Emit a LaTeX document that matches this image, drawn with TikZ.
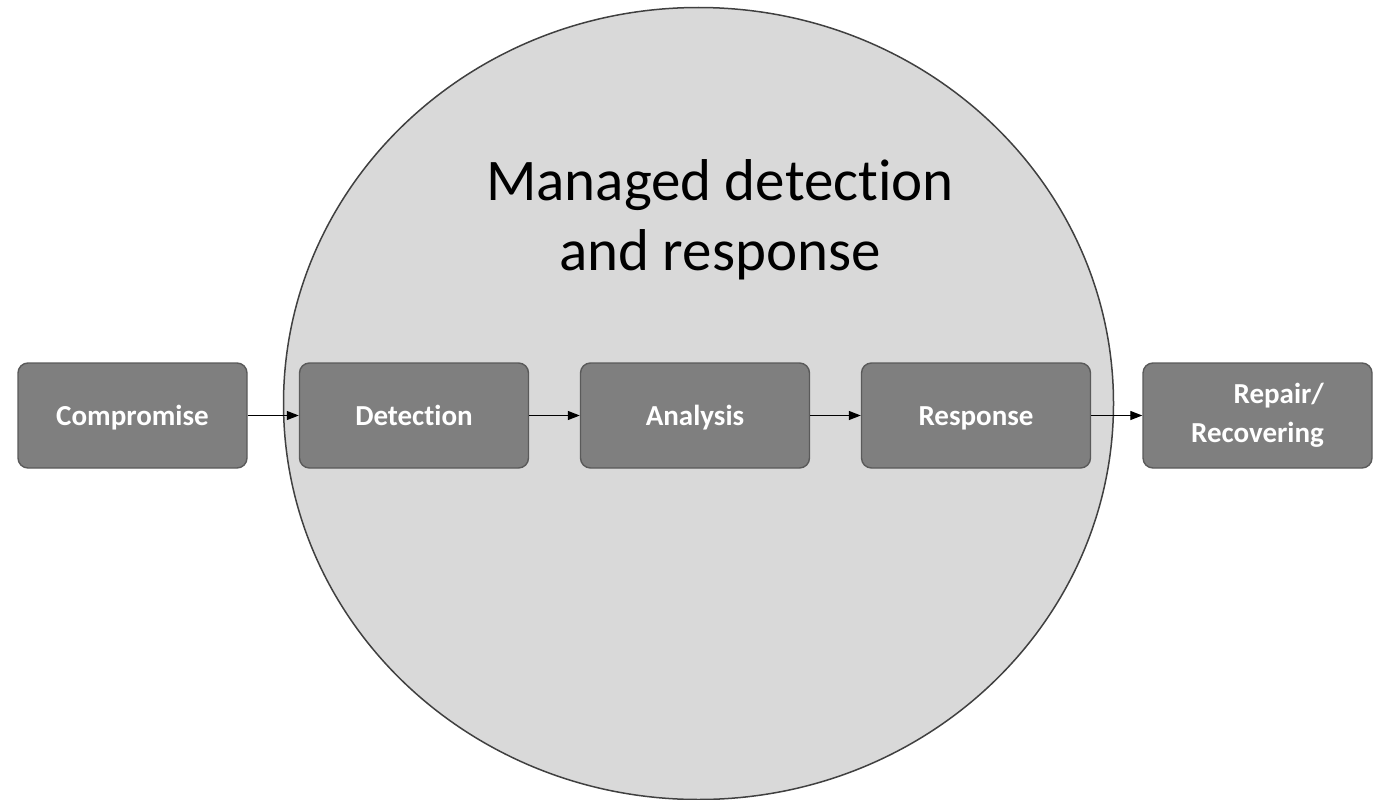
\documentclass[tikz,border=0pt]{standalone}
\usepackage{fontspec}
\setmainfont[Ligatures=NoCommon]{Carlito}
\usetikzlibrary{arrows.meta}
\definecolor{circfill}{HTML}{D9D9D9}
\definecolor{circline}{HTML}{404040}
\definecolor{boxfill}{HTML}{7F7F7F}
\definecolor{boxline}{HTML}{5A5A5A}
\begin{document}
\begin{tikzpicture}[x=1pt,y=-1pt,
  stagebox/.style={draw=boxline, fill=boxfill, rounded corners=10pt, line width=1.4pt,
    minimum width=229pt, minimum height=105pt, inner sep=0pt, text=white,
    font=\bfseries\fontsize{29}{39}\selectfont},
  oneline/.style={text height=19pt, text depth=0pt},
  flow/.style={line width=1.2pt, -{Triangle[length=12pt,width=9pt]}}]
\useasboundingbox (0,0) rectangle (1378,800);
\draw[circline, fill=circfill, line width=1.5pt] (698.5,403.5) ellipse [x radius=415, y radius=396];
\node[anchor=base, align=center, font=\fontsize{59}{70}\selectfont] (title) at (720,270) {Managed detection\\and response};
\node[stagebox, oneline] (comp) at (132.5,415.5) {Compromise};
\node[stagebox, oneline] (det) at (414,415.5) {Detection};
\node[stagebox, oneline] (ana) at (695,415.5) {Analysis};
\node[stagebox, oneline] (resp) at (976,415.5) {Response};
\node[stagebox, align=right] (rep) at (1257.5,415.5) {Repair/\\Recovering};
\draw[flow] (comp.east) -- (det.west);
\draw[flow] (det.east) -- (ana.west);
\draw[flow] (ana.east) -- (resp.west);
\draw[flow] (resp.east) -- (rep.west);
\end{tikzpicture}
\end{document}
